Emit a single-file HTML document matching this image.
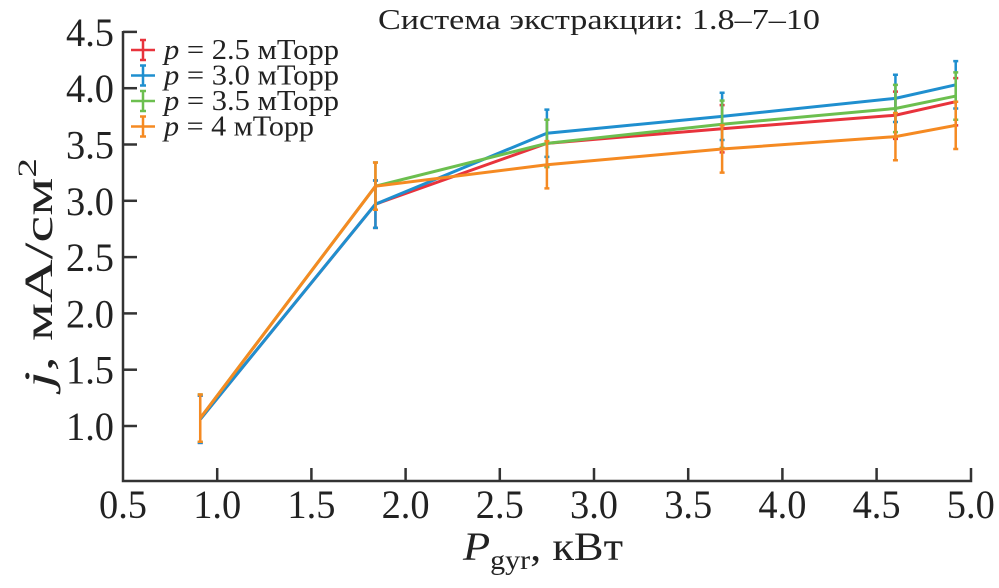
<!DOCTYPE html>
<html><head><meta charset="utf-8"><style>
body{margin:0;background:#fff;}
svg, svg text{font-family:"Liberation Serif","DejaVu Serif",serif;}
</style></head><body>
<svg id="chart" width="999" height="583" viewBox="0 0 999 583" xmlns="http://www.w3.org/2000/svg" font-family="Liberation Serif, serif">
<text x="378" y="29" font-family="Liberation Serif, serif" font-size="29" fill="#222" textLength="442" lengthAdjust="spacingAndGlyphs">Система экстракции: 1.8–7–10</text>
<g id="axes"></g>
<g id="series"></g>
<g id="legend"></g>
<text transform="translate(52,388) rotate(-90)" font-family="Liberation Serif, serif" font-size="40" fill="#222" textLength="230" lengthAdjust="spacingAndGlyphs"><tspan font-style="italic">j</tspan>, мА/см<tspan font-size="26" dy="-16">2</tspan></text>
<text x="463" y="560" font-family="Liberation Serif, serif" font-size="40" fill="#222" textLength="160" lengthAdjust="spacingAndGlyphs"><tspan font-style="italic">P</tspan><tspan font-size="27" dy="9">gyr</tspan><tspan dy="-9">, кВт</tspan></text>
</svg>
<script>
const xTicks=[0.5,1.0,1.5,2.0,2.5,3.0,3.5,4.0,4.5,5.0];
const yTicks=[1.0,1.5,2.0,2.5,3.0,3.5,4.0,4.5];
const xVals=[0.91,1.84,2.75,3.68,4.6,4.92];
const seriesNames=["p = 2.5 мТорр","p = 3.0 мТорр","p = 3.5 мТорр","p = 4 мТорр"];
const redVals=[1.06,2.97,3.51,3.64,3.76,3.88];
const blueVals=[1.06,2.97,3.60,3.75,3.91,4.03];
const greenVals=[1.07,3.13,3.51,3.68,3.82,3.93];
const orangeVals=[1.07,3.13,3.32,3.46,3.57,3.67];
const errVals=[0.21,0.21,0.21,0.21,0.21,0.21];
const colors=["#e8333c","#1f8fcf","#6cbf4f","#f58a22"];
const allVals=[redVals,blueVals,greenVals,orangeVals];
const NS="http://www.w3.org/2000/svg";
const X=v=>123+(v-0.5)*188.4;
const Y=v=>426-(v-1)*112.6;
function mk(tag,attrs,parent){const e=document.createElementNS(NS,tag);for(const k in attrs)e.setAttribute(k,attrs[k]);parent.appendChild(e);return e;}
const FF="Liberation Serif, serif";
const axes=document.getElementById('axes');
let a=mk('path',{d:`M123,31 L123,481 L971,481 L971,468`,fill:'none',stroke:'#333','stroke-width':2.5},axes);


xTicks.forEach(t=>{
 if(t>0.5&&t<5){const l=mk('line',{x1:X(t),x2:X(t),y1:481,y2:468,stroke:'#333','stroke-width':2.5},axes);
 
 }
 const tx=mk('text',{x:X(t)-24,y:518,'font-family':FF,'font-size':40,fill:'#222',textLength:48,lengthAdjust:'spacingAndGlyphs'},axes);
 
 
 tx.textContent=t.toFixed(1);
});
yTicks.forEach(t=>{
 const l=mk('line',{x1:123,x2:137,y1:Y(t),y2:Y(t),stroke:'#333','stroke-width':2.5},axes);
 
 
 const tx=mk('text',{x:66,y:Y(t)+14,'font-family':FF,'font-size':40,fill:'#222',textLength:48,lengthAdjust:'spacingAndGlyphs'},axes);
 
 
 tx.textContent=t.toFixed(1);
});
const sg=document.getElementById('series');
allVals.forEach((vals,si)=>{
 const c=colors[si];
 const g=mk('g',{},sg);
 
 
 vals.forEach((v,i)=>{
  const x=X(xVals[i]),e=errVals[i];
  const eb=mk('path',{d:`M${x},${Y(v-e)} L${x},${Y(v+e)} M${x-2.5},${Y(v-e)} L${x+2.5},${Y(v-e)} M${x-2.5},${Y(v+e)} L${x+2.5},${Y(v+e)}`,stroke:c,'stroke-width':2.5,fill:'none'},g);
  
  
 });
 const ln=mk('polyline',{points:vals.map((v,i)=>X(xVals[i])+','+Y(v)).join(' '),fill:'none',stroke:c,'stroke-width':3},g);
 
 
});
const lg=document.getElementById('legend');
const legW=[175,175,175,150];
seriesNames.forEach((n,i)=>{
 const y=50+i*25.5,c=colors[i];
 const g=mk('g',{},lg);
 
 
 mk('path',{d:`M131,${y} L155,${y} M143,${y-10} L143,${y+10} M140,${y-10} L146,${y-10} M140,${y+10} L146,${y+10}`,stroke:c,'stroke-width':2.5,fill:'none'},g);
 const t=mk('text',{x:164,y:y+9,'font-family':FF,'font-size':28,fill:'#222',textLength:legW[i],lengthAdjust:'spacingAndGlyphs'},g);
 const parts=n.split(' ');
 t.innerHTML='<tspan font-style="italic">p</tspan> '+parts.slice(1).join(' ');
});
</script>
</body></html>
